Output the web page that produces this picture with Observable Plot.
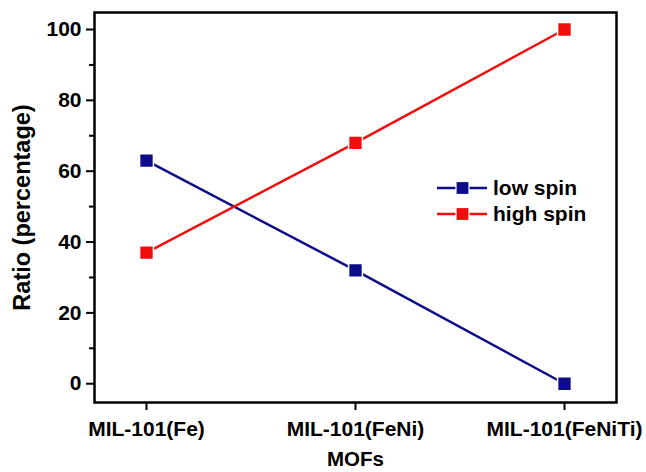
<!DOCTYPE html>
<html>
<head>
<meta charset="utf-8">
<script src="https://cdn.jsdelivr.net/npm/d3@7"></script>
<script src="https://cdn.jsdelivr.net/npm/@observablehq/plot@0.6"></script>
<style>
  html, body { margin: 0; padding: 0; background: #fff; }
  #wrap { position: relative; width: 646px; height: 472px; font-family: "Liberation Sans", Arial, sans-serif; }
  #legend { position: absolute; left: 437px; top: 175px; font-weight: bold; font-size: 21px; color: #000; }
  #legend .row { display: flex; align-items: center; height: 26px; }
  #legend svg { margin-right: 6px; }
</style>
</head>
<body>
<div id="wrap"><div id="chart"></div><div id="legend"></div></div>
<script>
const categories = ["MIL-101(Fe)", "MIL-101(FeNi)", "MIL-101(FeNiTi)"];
const seriesNames = ["low spin", "high spin"];
const seriesColors = ["#0d0d8a", "#f20c0c"];
const lowSpin = [63, 32, 0];
const highSpin = [37, 68, 100];
const yTicks = [0, 20, 40, 60, 80, 100];
const yMinorTicks = [10, 30, 50, 70, 90];
const xLabel = "MOFs";
const yLabel = "Ratio (percentage)";

const data = categories.flatMap((c, i) => [
  {mof: c, series: seriesNames[0], value: lowSpin[i]},
  {mof: c, series: seriesNames[1], value: highSpin[i]}
]);

const font = {fontSize: 21, fontWeight: "bold"};

const chart = Plot.plot({
  width: 646,
  height: 472,
  marginTop: 12,
  marginLeft: 94,
  marginRight: 30,
  marginBottom: 70,
  style: {fontFamily: "'Liberation Sans', Arial, sans-serif", background: "white", color: "black"},
  x: {type: "point", domain: categories, padding: 0.243},
  y: {domain: [-5.3, 104.8]},
  color: {domain: seriesNames, range: seriesColors},
  marks: [
    Plot.line(data, {x: "mof", y: "value", z: "series", stroke: "series", strokeWidth: 2.5}),
    Plot.dot(data, {x: "mof", y: "value", fill: "series", symbol: "square", r: 7.8, stroke: "white", strokeWidth: 1.5}),
    Plot.axisY({ticks: yTicks, tickSize: 8, tickPadding: 5, strokeWidth: 2, ...font, label: null}),
    Plot.axisY({ticks: yMinorTicks, tickSize: 5, strokeWidth: 2, text: null, label: null}),
    Plot.axisX({tickSize: 8, tickPadding: 11, strokeWidth: 2, ...font, label: null}),
    Plot.text([yLabel], {frameAnchor: "left", rotate: -90, dx: -72, fontSize: 23.5, fontWeight: "bold", textAnchor: "middle", lineAnchor: "middle"}),
    Plot.text([xLabel], {frameAnchor: "bottom", dy: 57, fontSize: 20.5, fontWeight: "bold", textAnchor: "middle", lineAnchor: "middle"}),
    Plot.frame({stroke: "black", strokeWidth: 2.5})
  ]
});
document.getElementById("chart").append(chart);

// Legend
const legend = document.getElementById("legend");
seriesNames.forEach((name, i) => {
  const row = document.createElement("div");
  row.className = "row";
  row.innerHTML = `<svg width="50" height="16"><line x1="0" x2="50" y1="8" y2="8" stroke="${seriesColors[i]}" stroke-width="2.5"/><rect x="19" y="1.5" width="13" height="13" fill="${seriesColors[i]}" stroke="white" stroke-width="1.2"/></svg><span>${name}</span>`;
  legend.append(row);
});
</script>
</body>
</html>
